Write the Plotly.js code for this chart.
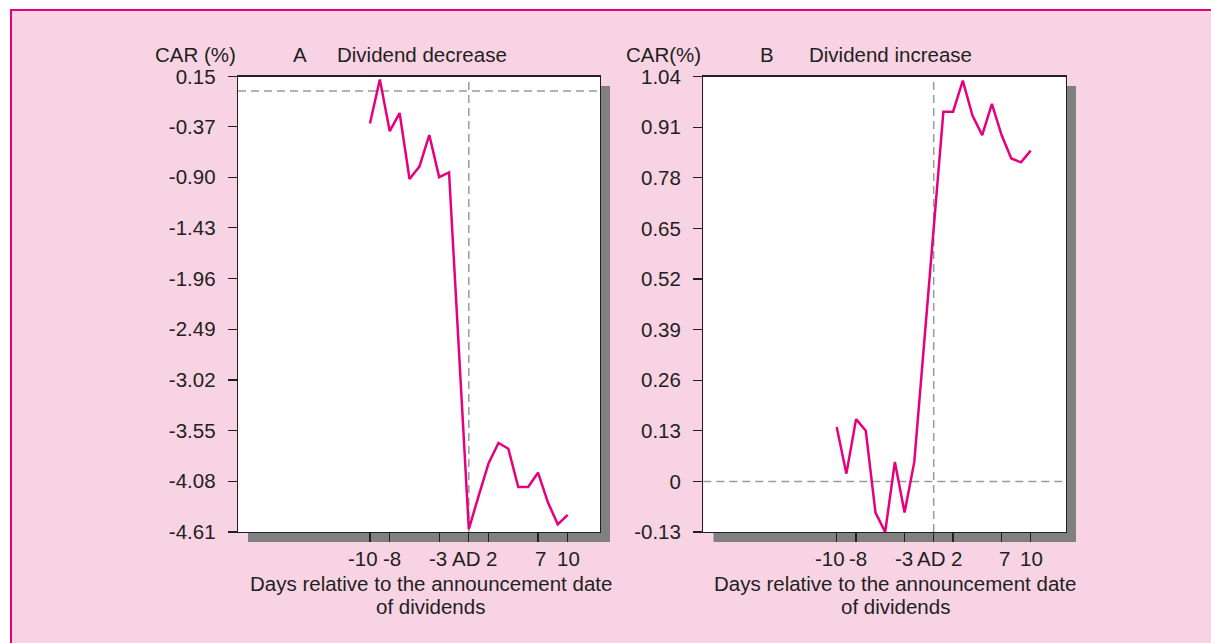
<!DOCTYPE html>
<html>
<head>
<meta charset="utf-8">
<script src="https://cdn.plot.ly/plotly-3.0.1.min.js"></script>
<style>
  html, body { margin: 0; padding: 0; background: #ffffff; }
  #chart { width: 1211px; height: 643px; }
</style>
</head>
<body>
<div id="chart"></div>
<script>
// ---- data ----
const days = [-10, -9, -8, -7, -6, -5, -4, -3, -2, -1, 0, 1, 2, 3, 4, 5, 6, 7, 8, 9, 10];
const carDecrease = [-0.34, 0.12, -0.42, -0.23, -0.92, -0.79, -0.46, -0.90, -0.85, -2.74, -4.58,
                     -4.23, -3.89, -3.68, -3.74, -4.14, -4.14, -3.99, -4.30, -4.53, -4.43];
const carIncrease = [0.14, 0.02, 0.16, 0.13, -0.08, -0.13, 0.05, -0.08, 0.05, 0.35, 0.65,
                     0.95, 0.95, 1.03, 0.94, 0.89, 0.97, 0.89, 0.83, 0.82, 0.85];
const xTickVals = [-10, -8, -3, 0, 2, 7, 10];
const xTickText = ['-10', '-8', '-3', 'AD', '2', '7', '10'];
const yTickValsA = [0.15, -0.37, -0.90, -1.43, -1.96, -2.49, -3.02, -3.55, -4.08, -4.61];
const yTickTextA = ['0.15', '-0.37', '-0.90', '-1.43', '-1.96', '-2.49', '-3.02', '-3.55', '-4.08', '-4.61'];
const yTickValsB = [1.04, 0.91, 0.78, 0.65, 0.52, 0.39, 0.26, 0.13, 0, -0.13];
const yTickTextB = ['1.04', '0.91', '0.78', '0.65', '0.52', '0.39', '0.26', '0.13', '0', '-0.13'];

// ---- layout helpers ----
const W = 1211, H = 643;
const px = x => x / W;
const py = y => 1 - y / H;
const FONT = 'Liberation Sans, Arial, sans-serif';
const FS = 20.5;
const TXT = '#231F20';
const LINE = '#E6007E';
// small horizontal nudges of the x tick labels, as in the printed figure
const xLabelShift = [-6.5, 2, -1, -3, 3, 2.5, 1];

const traces = [
  { x: days, y: carDecrease, xaxis: 'x', yaxis: 'y', type: 'scatter', mode: 'lines',
    line: { color: LINE, width: 2.5 }, hoverinfo: 'x+y' },
  { x: days, y: carIncrease, xaxis: 'x2', yaxis: 'y2', type: 'scatter', mode: 'lines',
    line: { color: LINE, width: 2.5 }, hoverinfo: 'x+y' }
];

function xAxis(domain, range, anchor) {
  return {
    domain: domain, range: range, anchor: anchor,
    tickmode: 'array', tickvals: xTickVals, ticktext: xTickText, tickangle: 0,
    showticklabels: false,
    ticks: 'outside', ticklen: 9, tickwidth: 1.2, tickcolor: TXT,
    showline: true, mirror: true, linecolor: TXT, linewidth: 1.3,
    showgrid: false, zeroline: false, fixedrange: true, automargin: false,
    tickfont: { family: FONT, size: FS, color: TXT }
  };
}
function yAxis(range, vals, text, anchor) {
  return {
    domain: [py(532), py(76.7)], range: range, anchor: anchor,
    tickmode: 'array', tickvals: vals, ticktext: text, tickangle: 0,
    ticks: 'outside', ticklen: 9, tickwidth: 1.2, tickcolor: TXT, ticklabelstandoff: 8,
    showline: true, mirror: true, linecolor: TXT, linewidth: 1.3,
    showgrid: false, zeroline: false, fixedrange: true, automargin: false,
    tickfont: { family: FONT, size: FS, color: TXT }
  };
}

const dash = { color: '#9A9A9A', width: 1.5, dash: '8px,5px' };
const shapes = [
  // pink panel with magenta border
  { type: 'rect', xref: 'paper', yref: 'paper', x0: px(11), x1: px(1230), y0: py(10), y1: py(670),
    fillcolor: '#F8D3E4', line: { color: '#E6007E', width: 2 }, layer: 'below' },
  // drop shadows
  { type: 'rect', xref: 'paper', yref: 'paper', x0: px(248), x1: px(610), y0: py(86), y1: py(542),
    fillcolor: '#808080', line: { width: 0 }, layer: 'below' },
  { type: 'rect', xref: 'paper', yref: 'paper', x0: px(713.5), x1: px(1076), y0: py(86), y1: py(542),
    fillcolor: '#808080', line: { width: 0 }, layer: 'below' },
  // white plot areas
  { type: 'rect', xref: 'paper', yref: 'paper', x0: px(238), x1: px(600), y0: py(76.7), y1: py(532),
    fillcolor: '#FFFFFF', line: { width: 0 }, layer: 'below' },
  { type: 'rect', xref: 'paper', yref: 'paper', x0: px(703.3), x1: px(1066), y0: py(76.7), y1: py(532),
    fillcolor: '#FFFFFF', line: { width: 0 }, layer: 'below' },
  // dashed reference lines
  { type: 'line', xref: 'x', yref: 'y domain', x0: 0, x1: 0, y0: 0, y1: 1, line: dash, layer: 'below' },
  { type: 'line', xref: 'x domain', yref: 'y', x0: 0, x1: 1, y0: 0, y1: 0, line: dash, layer: 'below' },
  { type: 'line', xref: 'x2', yref: 'y2 domain', x0: 0, x1: 0, y0: 0, y1: 1, line: dash, layer: 'below' },
  { type: 'line', xref: 'x2 domain', yref: 'y2', x0: 0, x1: 1, y0: 0, y1: 0, line: dash, layer: 'below' }
];

function ann(text, x, y, xanchor, extra) {
  return Object.assign({
    text: text, xref: 'paper', yref: 'paper', x: px(x), y: py(y),
    xanchor: xanchor, yanchor: 'middle', showarrow: false,
    font: { family: FONT, size: FS, color: TXT }
  }, extra || {});
}

const annotations = [
  ann('CAR (%)', 237.5, 54, 'right'),
  ann('A', 300, 54, 'center'),
  ann('Dividend decrease', 335, 54, 'left'),
  ann('CAR(%)', 703, 54, 'right'),
  ann('B', 766.7, 54, 'center'),
  ann('Dividend increase', 806.7, 54, 'left'),
  ann('Days relative to the announcement date', 430.7, 583, 'center'),
  ann('of dividends', 430.7, 606.7, 'center'),
  ann('Days relative to the announcement date', 895, 583, 'center'),
  ann('of dividends', 895, 606.7, 'center')
];
// x tick labels, placed on the axis scale
['x', 'x2'].forEach(function (ax) {
  xTickVals.forEach(function (v, i) {
    annotations.push({
      text: xTickText[i], xref: ax, yref: 'paper', x: v, y: py(558),
      xshift: xLabelShift[i], xanchor: 'center', yanchor: 'middle', showarrow: false,
      font: { family: FONT, size: FS, color: TXT }
    });
  });
});

const layout = {
  width: W, height: H,
  margin: { l: 0, r: 0, t: 0, b: 0 },
  paper_bgcolor: '#FFFFFF',
  plot_bgcolor: 'rgba(0,0,0,0)',
  showlegend: false,
  font: { family: FONT, size: FS, color: TXT },
  xaxis: xAxis([px(238), px(600)], [-23.35, 13.27], 'y'),
  yaxis: yAxis([-4.61, 0.15], yTickValsA, yTickTextA, 'x'),
  xaxis2: xAxis([px(703.3), px(1066)], [-23.75, 13.64], 'y2'),
  yaxis2: yAxis([-0.13, 1.04], yTickValsB, yTickTextB, 'x2'),
  shapes: shapes,
  annotations: annotations
};

Plotly.newPlot('chart', traces, layout, { displayModeBar: false, staticPlot: true });
</script>
</body>
</html>
